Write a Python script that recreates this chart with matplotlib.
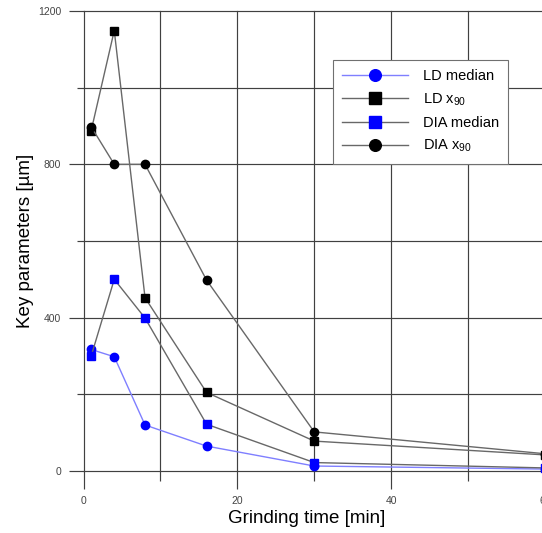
import matplotlib
matplotlib.use("Agg")
import matplotlib.pyplot as plt
import matplotlib.ticker as ticker

plt.rcParams["font.family"] = ["Liberation Sans", "DejaVu Sans"]
plt.rcParams["mathtext.default"] = "regular"

# grinding time [min]
time = [1, 4, 8, 16, 30, 60]

# key parameters [um]
ld_median = [317, 298, 120, 65, 13, 5]
ld_x90 = [888, 1149, 452, 205, 78, 42]
dia_median = [300, 500, 399, 122, 22, 8]
dia_x90 = [898, 800, 800, 498, 102, 45]

grid_col = "#404040"
line_col = "#686868"

fig = plt.figure(figsize=(5.42, 5.33), dpi=100)
ax = fig.add_axes([83.5 / 542, 1 - 471 / 533, 461.5 / 542, 460 / 533])

ax.plot(time, ld_median, color="#7f7fff", lw=1, marker="o", ms=6,
        mfc="blue", mec="blue", label="LD median", clip_on=False, zorder=3)
ax.plot(time, ld_x90, color=line_col, lw=1, marker="s", ms=6,
        mfc="black", mec="black", label=r"LD x$_\mathregular{90}$", clip_on=False, zorder=3)
ax.plot(time, dia_median, color=line_col, lw=1, marker="s", ms=6,
        mfc="blue", mec="blue", label="DIA median", clip_on=False, zorder=3)
ax.plot(time, dia_x90, color=line_col, lw=1, marker="o", ms=6,
        mfc="black", mec="black", label=r"DIA x$_\mathregular{90}$", clip_on=False, zorder=3)

ax.set_xlim(0, 60)
ax.set_ylim(0, 1200)
for s in ax.spines.values():
    s.set_visible(False)

ax.xaxis.set_major_locator(ticker.MultipleLocator(20))
ax.xaxis.set_minor_locator(ticker.MultipleLocator(10))
ax.yaxis.set_major_locator(ticker.MultipleLocator(400))
ax.yaxis.set_minor_locator(ticker.MultipleLocator(200))
ax.grid(which="both", color=grid_col, lw=0.85)
ax.set_axisbelow(True)

ax.tick_params(axis="x", which="major", length=13, width=0.85, color=grid_col,
               labelsize=7.5, labelcolor="#444444", pad=5)
ax.tick_params(axis="x", which="minor", length=7, width=0.85, color=grid_col)
ax.tick_params(axis="y", which="major", length=11, width=0.85, color=grid_col,
               labelsize=7.5, labelcolor="#444444", pad=5)
ax.tick_params(axis="y", which="minor", length=5, width=0.85, color=grid_col)

ax.set_xlabel("Grinding time [min]", fontsize=13.5)
ax.set_ylabel("Key parameters [µm]", fontsize=13.5)
ax.xaxis.set_label_coords(0.484, -0.104)
ax.yaxis.set_label_coords(-0.126, 0.5)
ax.xaxis.label.set_va("center")
ax.yaxis.label.set_va("center")

leg = ax.legend(loc="upper left", bbox_to_anchor=(333 / 542, 1 - 60 / 533),
                bbox_transform=fig.transFigure, fontsize=10.5, markerscale=1.4,
                handlelength=4.5, handletextpad=1.0, labelspacing=0.55,
                borderaxespad=0, fancybox=False, framealpha=1,
                edgecolor="#707070", borderpad=0.65)
leg.get_frame().set_linewidth(0.8)

# grid lines on the axes limits should not be half clipped
fig.canvas.draw()
for axis in (ax.xaxis, ax.yaxis):
    for t in axis.get_major_ticks() + axis.get_minor_ticks():
        t.gridline.set_clip_on(False)

fig.savefig("out.png", dpi=100)
